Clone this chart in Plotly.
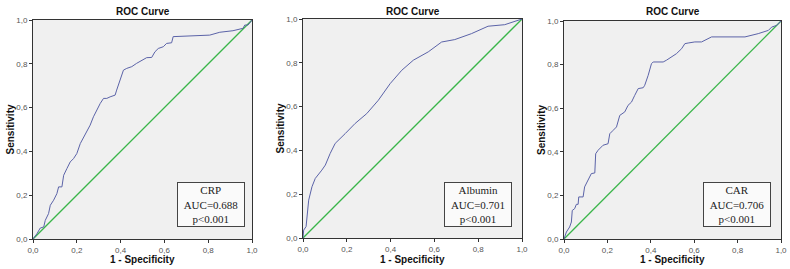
import plotly.graph_objects as go

# ---- data ----
tick_vals = [0.0, 0.2, 0.4, 0.6, 0.8, 1.0]
tick_text = ["0,0", "0,2", "0,4", "0,6", "0,8", "1,0"]

crp_fpr = [0, 0.018, 0.033, 0.049, 0.056, 0.071, 0.079, 0.094, 0.109, 0.117, 0.132, 0.140, 0.155, 0.170, 0.185,
           0.200, 0.216, 0.231, 0.246, 0.261, 0.276, 0.291, 0.307, 0.322, 0.337, 0.352, 0.375, 0.382, 0.398,
           0.413, 0.428, 0.451, 0.473, 0.496, 0.519, 0.542, 0.557, 0.572, 0.595, 0.610, 0.633, 0.640, 0.701,
           0.762, 0.807, 0.853, 0.913, 0.959, 0.967, 0.982, 1.0]
crp_tpr = [0, 0.024, 0.050, 0.055, 0.085, 0.116, 0.154, 0.177, 0.207, 0.238, 0.238, 0.291, 0.322, 0.352, 0.367,
           0.390, 0.436, 0.466, 0.497, 0.520, 0.558, 0.588, 0.619, 0.642, 0.642, 0.649, 0.657, 0.680, 0.726,
           0.771, 0.779, 0.787, 0.802, 0.817, 0.828, 0.829, 0.855, 0.870, 0.878, 0.893, 0.896, 0.924, 0.927,
           0.931, 0.931, 0.944, 0.951, 0.962, 0.977, 0.977, 1.0]

alb_fpr = [0, 0.003, 0.014, 0.026, 0.041, 0.056, 0.086, 0.102, 0.124, 0.147, 0.193, 0.238, 0.291, 0.344, 0.398,
           0.451, 0.504, 0.572, 0.633, 0.693, 0.769, 0.845, 0.921, 0.967, 1.0]
alb_tpr = [0, 0.036, 0.052, 0.173, 0.234, 0.272, 0.310, 0.333, 0.386, 0.432, 0.477, 0.523, 0.568, 0.629, 0.705,
           0.766, 0.812, 0.850, 0.895, 0.906, 0.933, 0.967, 0.974, 0.991, 1.0]

car_fpr = [0, 0.011, 0.026, 0.034, 0.038, 0.049, 0.057, 0.065, 0.068, 0.088, 0.095, 0.111, 0.126, 0.142, 0.146,
           0.157, 0.180, 0.203, 0.211, 0.226, 0.242, 0.257, 0.280, 0.295, 0.311, 0.326, 0.342, 0.365, 0.372,
           0.388, 0.403, 0.411, 0.457, 0.472, 0.495, 0.518, 0.542, 0.557, 0.572, 0.603, 0.634, 0.680, 0.742,
           0.834, 0.895, 0.942, 0.957, 0.980, 1.0]
car_tpr = [0, 0.032, 0.055, 0.078, 0.131, 0.139, 0.159, 0.159, 0.193, 0.193, 0.239, 0.269, 0.300, 0.303, 0.391,
           0.407, 0.430, 0.437, 0.483, 0.498, 0.514, 0.567, 0.583, 0.613, 0.628, 0.659, 0.690, 0.694, 0.705,
           0.751, 0.804, 0.812, 0.812, 0.820, 0.835, 0.850, 0.873, 0.896, 0.899, 0.904, 0.904, 0.927, 0.927,
           0.927, 0.942, 0.957, 0.972, 0.980, 1.0]

panel_names = ["CRP", "Albumin", "CAR"]
panel_auc = ["0.688", "0.701", "0.706"]
panel_p = ["p<0.001", "p<0.001", "p<0.001"]
diag = [0.0, 1.0]

W, H = 790, 269
# plot-area pixel boxes (left, right, top, bottom)
boxes = [(33, 252, 20, 239), (303, 522, 19, 238), (564, 781, 21, 239)]
legend_boxes = [(177, 245, 182, 227), (444, 512, 182, 227), (703, 771, 182, 227)]


def px(v):
    return v / W


def py(v):
    return 1 - v / H


curve_color = "#5b63a8"
diag_color = "#3ab54a"
font_sans = "Liberation Sans, Arial, sans-serif"
font_serif = "Liberation Serif, Times New Roman, serif"

fig = go.Figure()
series = [(crp_fpr, crp_tpr), (alb_fpr, alb_tpr), (car_fpr, car_tpr)]
layout = {}
annotations = []
for i, ((fx, fy), (l, r, t, b), (ll, lr, lt, lb)) in enumerate(zip(series, boxes, legend_boxes)):
    n = "" if i == 0 else str(i + 1)
    xa, ya = "x" + n, "y" + n
    fig.add_trace(go.Scatter(x=diag, y=diag, mode="lines", line=dict(color=diag_color, width=1.3),
                             xaxis=xa, yaxis=ya, showlegend=False, hoverinfo="skip"))
    fig.add_trace(go.Scatter(x=fx, y=fy, mode="lines", line=dict(color=curve_color, width=1),
                             xaxis=xa, yaxis=ya, showlegend=False))
    common = dict(range=[0, 1], tickvals=tick_vals, ticktext=tick_text, ticks="outside", ticklen=3,
                  tickwidth=1, tickcolor="#333", showline=True, linecolor="#333", linewidth=1, mirror=True,
                  showgrid=False, zeroline=False, automargin=False,
                  tickfont=dict(family=font_sans, size=8, color="#555"))
    layout["xaxis" + n] = dict(common, domain=[px(l), px(r)], anchor=ya)
    layout["yaxis" + n] = dict(common, domain=[py(b), py(t)], anchor=xa)
    annotations.append(dict(text="<b>ROC Curve</b>", x=px((l + r) / 2), y=py(11), xref="paper",
                            yref="paper", showarrow=False, xanchor="center", yanchor="middle",
                            font=dict(family=font_sans, size=10, color="#111")))
    annotations.append(dict(text="<b>1 - Specificity</b>", x=px((l + r) / 2), y=py(259), xref="paper",
                            yref="paper", showarrow=False, xanchor="center", yanchor="middle",
                            font=dict(family=font_sans, size=10, color="#111")))
    annotations.append(dict(text="<b>Sensitivity</b>", x=px(l - 23), y=py((t + b) / 2), xref="paper",
                            yref="paper", showarrow=False, xanchor="center", yanchor="middle", textangle=-90,
                            font=dict(family=font_sans, size=10, color="#111")))
    annotations.append(dict(text=f"{panel_names[i]}<br>AUC={panel_auc[i]}<br>{panel_p[i].replace('<', '&lt;')}",
                            x=px((ll + lr) / 2), y=py((lt + lb) / 2), xref="paper", yref="paper",
                            showarrow=False, xanchor="center", yanchor="middle", align="center",
                            width=lr - ll - 4, height=lb - lt - 4, borderpad=1, bordercolor="#444",
                            borderwidth=1, bgcolor="#fafafa",
                            font=dict(family=font_serif, size=11, color="#222")))

fig.update_layout(width=W, height=H, margin=dict(l=0, r=0, t=0, b=0), paper_bgcolor="white",
                  plot_bgcolor="#f0f0f0", annotations=annotations, **layout)
fig.write_html("out.html", config={"displayModeBar": False},
               post_script="document.body.style.margin='0';document.body.style.overflow='hidden';")
